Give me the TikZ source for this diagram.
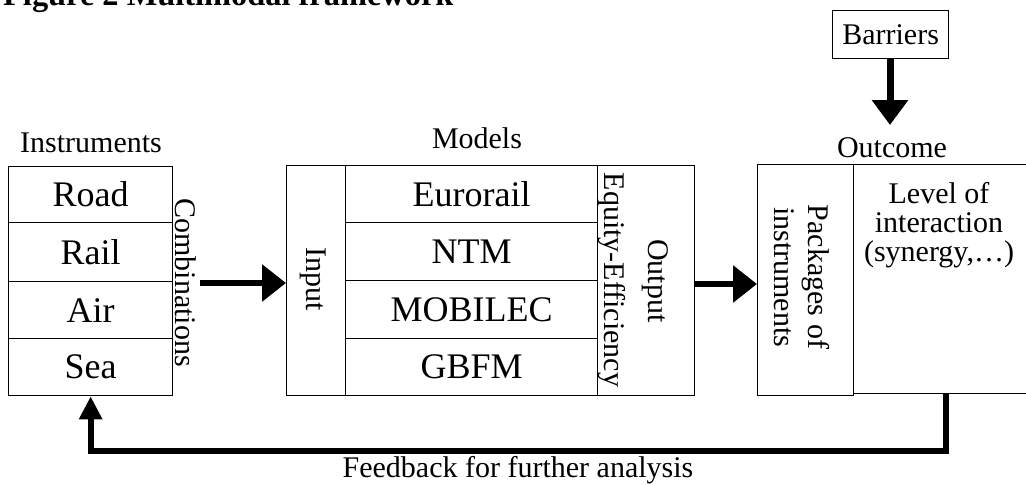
\documentclass[tikz,border=0pt]{standalone}
\usepackage{fontspec}
\setmainfont{Liberation Serif}
\usetikzlibrary{arrows.meta}

\newcommand{\lbl}{\fontsize{30}{29}\selectfont}
\newcommand{\itm}{\fontsize{36}{36}\selectfont}

\tikzset{
  cell/.style={draw, line width=1.3pt, inner sep=0pt, anchor=north west},
  item/.style={cell, font=\itm},
  txt/.style={inner sep=0pt, font=\lbl},
  vtxt/.style={txt, rotate=-90},
  bigarrow/.style={line width=6pt, -{Triangle[length=24pt,width=36pt]}},
  fbarrow/.style={line width=6pt, line join=miter, -{Triangle[length=23pt,width=22pt]}}
}

\begin{document}
\begin{tikzpicture}[x=1pt, y=-1pt]
\useasboundingbox (0,0) rectangle (1026,485);

% heading
\node[anchor=base west, inner sep=0pt, font=\bfseries\fontsize{32.4}{32}\selectfont]
  (title) at (3,5) {Figure 2 Multimodal framework};

% instruments column
\node[txt, anchor=base] (instlbl) at (91,152) {Instruments};
\node[item, minimum width=164pt, minimum height=56pt]   (road) at (8,166) {Road};
\node[item, minimum width=164pt, minimum height=59pt]   (rail) at (8,222) {Rail};
\node[item, minimum width=164pt, minimum height=57pt]   (air)  at (8,281) {Air};
\node[item, minimum width=164pt, minimum height=57pt]   (sea)  at (8,338) {Sea};
\node[vtxt] (comb) at (186,282.5) {Combinations};

% models block
\node[txt, anchor=base] (modlbl) at (477,148) {Models};
\node[cell, minimum width=59pt, minimum height=230pt] (input) at (286,165) {};
\node[vtxt] (inputtxt) at (313,279) {Input};
\node[item, minimum width=252pt, minimum height=57pt] (eurorail) at (345,165) {Eurorail};
\node[item, minimum width=252pt, minimum height=58pt] (ntm)      at (345,222) {NTM};
\node[item, minimum width=252pt, minimum height=58pt] (mobilec)  at (345,280) {MOBILEC};
\node[item, minimum width=252pt, minimum height=57pt] (gbfm)     at (345,338) {GBFM};
\node[cell, minimum width=97pt, minimum height=230pt] (output) at (597,165) {};
\node[vtxt] (outtxt) at (655,281) {Output};
\node[vtxt] (eqtxt)  at (612,280) {Equity-Efficiency};

% outcome block
\node[txt, anchor=base] (outlbl) at (892,157) {Outcome};
\node[cell, minimum width=96pt, minimum height=231pt] (pack) at (757,164) {};
\node[vtxt] (packtxt1) at (816,277) {Packages of};
\node[vtxt] (packtxt2) at (784,277) {instruments};
\node[cell, minimum width=173pt, minimum height=229pt] (level) at (853,164) {};
\node[txt, anchor=north, align=center] (leveltxt) at (939,182)
  {Level of\\interaction\\(synergy,\ldots)};

% barriers
\node[cell, minimum width=116pt, minimum height=48pt, font=\lbl] (barriers) at (832,10) {Barriers};
\coordinate (btip) at (890,125);

% connectors
\coordinate (a1) at (200,283);
\draw[bigarrow] (a1) -- (a1 -| input.west);
\draw[bigarrow] (output.east |- 0,284) -- (pack.west |- 0,284);
\draw[line width=7pt, -{Triangle[length=25pt,width=35pt]}] (barriers.south -| btip) -- (btip);
\draw[fbarrow] ([xshift=6pt]level.south) -- ++(0,57) -| (sea.south);

\node[txt, anchor=base] (fbtxt) at (518,477) {Feedback for further analysis};
\end{tikzpicture}
\end{document}
